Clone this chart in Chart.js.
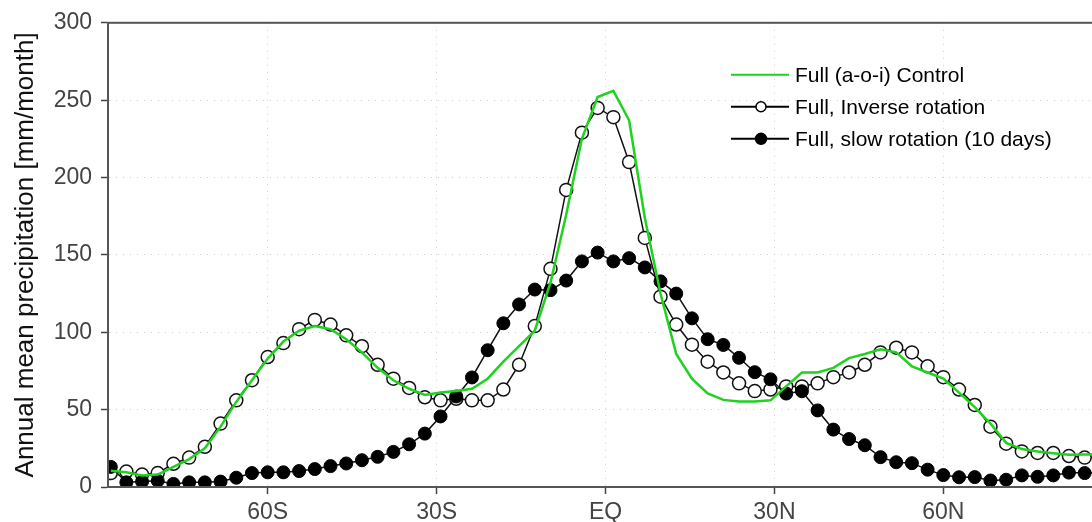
<!DOCTYPE html>
<html>
<head>
<meta charset="utf-8">
<script src="https://cdn.jsdelivr.net/npm/chart.js@4"></script>
<style>
  html, body { margin: 0; padding: 0; background: #fff; overflow: hidden; }
  canvas { display: block; }
</style>
</head>
<body>
<canvas id="precip" width="1111" height="522"></canvas>
<script>
// T42 gaussian latitudes, south to north
const latitudes = [
  -87.86, -85.10, -82.31, -79.53, -76.74, -73.95, -71.16, -68.37, -65.58, -62.79,
  -60.00, -57.21, -54.42, -51.63, -48.84, -46.05, -43.26, -40.47, -37.67, -34.88,
  -32.09, -29.30, -26.51, -23.72, -20.93, -18.14, -15.35, -12.56, -9.77, -6.98,
  -4.19, -1.40,
  1.40, 4.19, 6.98, 9.77, 12.56, 15.35, 18.14, 20.93, 23.72, 26.51,
  29.30, 32.09, 34.88, 37.67, 40.47, 43.26, 46.05, 48.84, 51.63, 54.42,
  57.21, 60.00, 62.79, 65.58, 68.37, 71.16, 73.95, 76.74, 79.53, 82.31,
  85.10, 87.86
];

const controlRun = [
  10.5, 9.5, 7.5, 8, 13, 18, 25, 39, 55, 69,
  83, 94, 101, 104, 102, 95.5, 87, 77, 69, 63.5,
  59.5, 61, 62, 63.5, 70, 81, 91, 101, 132, 176,
  225, 252,
  256, 237, 174, 125, 86, 70, 60.5, 56.3, 55.3, 55.3,
  56, 65, 74, 74, 77, 83.3, 86, 89, 87, 78,
  74, 70, 61, 51.6, 41, 28.5, 24.5, 23, 21.8, 20.8,
  21, 21
];

const inverseRotation = [
  9, 10, 8, 9, 15, 19, 26, 41, 56, 69,
  84, 93, 102, 108, 105, 98, 91, 79, 70, 64,
  58, 56, 57, 56, 56, 63, 79, 104, 141, 192,
  229, 245,
  239, 210, 161, 123, 105, 92, 81, 74, 67, 62,
  63, 65, 65, 67, 71, 74, 79, 87, 90, 87,
  78, 71, 63, 53, 39, 28, 23, 22, 22, 20,
  19, 19
];

const slowRotation = [
  13, 3, 3.5, 4, 2, 3, 3, 3.5, 6, 9,
  9.5, 9.5, 10.3, 11.6, 13.5, 15.2, 17.3, 19.5, 22.7, 27.6,
  34.5, 45.6, 58.5, 70.8, 88.4, 105.8, 118, 127.6, 127.2, 133.4,
  145.8, 151.5,
  145.8, 147.9, 141.9, 132.9, 125, 109, 95.5, 91.8, 83.5, 74.2,
  69.6, 60.4, 61.9, 49.5, 37.1, 31, 27, 19.3, 16, 15.4,
  11.2, 7.7, 6.3, 6.4, 4.2, 4.7, 7.5, 6.6, 7.5, 9.3,
  9, 9
];

const latTickValues = [-60, -30, 0, 30, 60];
const latTickLabels = ['60S', '30S', 'EQ', '30N', '60N'];
const seriesNames = ['Full (a-o-i) Control', 'Full, Inverse rotation', 'Full, slow rotation (10 days)'];

const green = 'rgb(30,210,30)';

function toPoints(values) {
  return latitudes.map((lat, i) => ({ x: lat, y: values[i] }));
}

// frame round the plot area
const frame = {
  id: 'frame',
  afterDatasetsDraw(chart) {
    const { ctx, chartArea: a } = chart;
    ctx.save();
    ctx.strokeStyle = '#555';
    ctx.lineWidth = 2;
    ctx.strokeRect(a.left, a.top, a.right - a.left, a.bottom - a.top);
    ctx.restore();
  }
};

// legend drawn inside the plot, top right
const insideLegend = {
  id: 'insideLegend',
  afterDraw(chart) {
    const { ctx, chartArea: a } = chart;
    const x0 = a.left + 623, x1 = a.left + 681, xm = a.left + 653;
    const rows = [a.top + 52, a.top + 84, a.top + 116];
    ctx.save();
    ctx.font = '21px "Liberation Sans", Arial, sans-serif';
    ctx.textBaseline = 'middle';
    rows.forEach((y, i) => {
      ctx.beginPath();
      ctx.moveTo(x0, y);
      ctx.lineTo(x1, y);
      ctx.lineWidth = 2;
      ctx.strokeStyle = i === 0 ? green : '#000';
      ctx.stroke();
      if (i > 0) {
        ctx.beginPath();
        ctx.arc(xm, y, i === 1 ? 5 : 5.5, 0, Math.PI * 2);
        ctx.fillStyle = i === 1 ? '#fff' : '#000';
        ctx.fill();
        ctx.lineWidth = 1.5;
        ctx.strokeStyle = '#000';
        ctx.stroke();
      }
      ctx.fillStyle = '#000';
      ctx.fillText(seriesNames[i], x1 + 6, y + 1);
    });
    ctx.restore();
  }
};

const gridOpts = {
  color: '#cfcfcf',
  tickLength: 7,
  tickColor: '#444',
  tickBorderDash: [],
  tickWidth: 1.5
};

const ctx = document.getElementById('precip').getContext('2d');
new Chart(ctx, {
  type: 'line',
  data: {
    datasets: [
      {
        label: seriesNames[0],
        data: toPoints(controlRun),
        borderColor: green,
        borderWidth: 2.5,
        pointRadius: 0,
        tension: 0,
        order: 0
      },
      {
        label: seriesNames[2],
        data: toPoints(slowRotation),
        borderColor: '#111',
        borderWidth: 1.5,
        pointRadius: 6.5,
        pointBorderWidth: 1,
        pointBackgroundColor: '#000',
        pointBorderColor: '#000',
        tension: 0,
        order: 1
      },
      {
        label: seriesNames[1],
        data: toPoints(inverseRotation),
        borderColor: '#111',
        borderWidth: 1.5,
        pointRadius: 6.5,
        pointBorderWidth: 1.5,
        pointBackgroundColor: '#fff',
        pointBorderColor: '#111',
        tension: 0,
        order: 2
      }
    ]
  },
  options: {
    responsive: false,
    animation: false,
    layout: { padding: { top: 20, right: 1, left: 0, bottom: 0 } },
    plugins: {
      legend: { display: false },
      tooltip: { enabled: false }
    },
    scales: {
      x: {
        type: 'linear',
        min: -88.36,
        max: 88.36,
        afterBuildTicks(s) { s.ticks = latTickValues.map(v => ({ value: v })); },
        afterFit(s) { s.height = 35; },
        ticks: {
          callback: (v) => latTickLabels[latTickValues.indexOf(v)],
          color: '#444',
          font: { family: '"Liberation Sans", Arial, sans-serif', size: 23 },
          padding: 5,
          maxRotation: 0,
          autoSkip: false
        },
        grid: gridOpts,
        border: { color: '#555', width: 2, dash: [1, 6] }
      },
      y: {
        min: 0,
        max: 300,
        afterFit(s) { s.width = 108; },
        ticks: {
          stepSize: 50,
          color: '#444',
          font: { family: '"Liberation Sans", Arial, sans-serif', size: 23 },
          padding: 9
        },
        grid: gridOpts,
        border: { color: '#555', width: 2, dash: [1, 6] },
        title: {
          display: true,
          text: 'Annual mean precipitation [mm/month]',
          color: '#111',
          font: { family: '"Liberation Sans", Arial, sans-serif', size: 26 },
          padding: { top: 10, bottom: 0 }
        }
      }
    }
  },
  plugins: [frame, insideLegend]
});
</script>
</body>
</html>
